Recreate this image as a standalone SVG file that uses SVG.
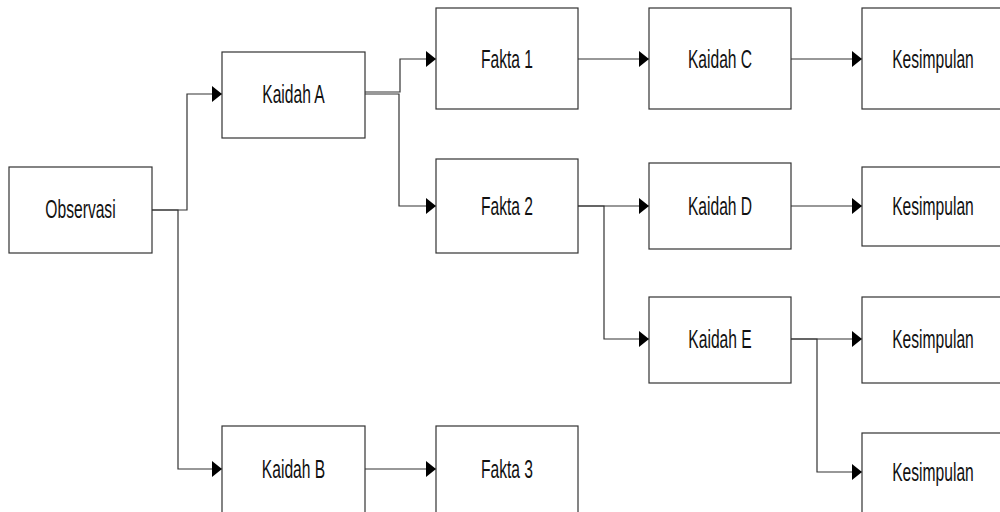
<svg xmlns="http://www.w3.org/2000/svg" width="1000" height="512" viewBox="0 0 1000 512">
<style>
.box{fill:#fff;stroke:#333;stroke-width:1.2}
.lbl{font-family:"Liberation Sans",Arial,sans-serif;font-size:25px;fill:#111;text-anchor:middle}
.con{fill:none;stroke:#333;stroke-width:1.2}
</style>
<defs>
<marker id="arr" markerUnits="userSpaceOnUse" markerWidth="10" markerHeight="16" refX="10" refY="8" orient="auto">
<path d="M0,0 L10,8 L0,16 z" fill="#000"/>
</marker>
</defs>
<rect width="1000" height="512" fill="#fff"/>
<g id="connectors">
<path class="con" d="M152,210 H187 V94 H222" marker-end="url(#arr)"/>
<path class="con" d="M152,210 H178 V469 H222" marker-end="url(#arr)"/>
<path class="con" d="M365,92 H400 V59 H436" marker-end="url(#arr)"/>
<path class="con" d="M365,94 H399 V206 H436" marker-end="url(#arr)"/>
<path class="con" d="M578,59 H649" marker-end="url(#arr)"/>
<path class="con" d="M791,59 H862" marker-end="url(#arr)"/>
<path class="con" d="M578,206 H649" marker-end="url(#arr)"/>
<path class="con" d="M578,206 H604 V339 H649" marker-end="url(#arr)"/>
<path class="con" d="M791,206 H862" marker-end="url(#arr)"/>
<path class="con" d="M791,339 H862" marker-end="url(#arr)"/>
<path class="con" d="M791,339 H817 V472 H862" marker-end="url(#arr)"/>
<path class="con" d="M365,469 H436" marker-end="url(#arr)"/>
</g>
<g id="observasi"><rect class="box" x="9" y="167" width="143" height="86"/><text class="lbl" transform="translate(80.5,218) scale(0.625,1)">Observasi</text></g>
<g id="kaidah-a"><rect class="box" x="222" y="52" width="143" height="86"/><text class="lbl" transform="translate(293.5,102.5) scale(0.625,1)">Kaidah A</text></g>
<g id="kaidah-b"><rect class="box" x="222" y="426" width="143" height="88"/><text class="lbl" transform="translate(293.5,477.5) scale(0.625,1)">Kaidah B</text></g>
<g id="fakta-1"><rect class="box" x="436" y="8" width="142" height="101"/><text class="lbl" transform="translate(507,67.5) scale(0.625,1)">Fakta 1</text></g>
<g id="fakta-2"><rect class="box" x="436" y="159" width="142" height="94"/><text class="lbl" transform="translate(507,214.5) scale(0.625,1)">Fakta 2</text></g>
<g id="fakta-3"><rect class="box" x="436" y="426" width="142" height="88"/><text class="lbl" transform="translate(507,477.5) scale(0.625,1)">Fakta 3</text></g>
<g id="kaidah-c"><rect class="box" x="649" y="8" width="142" height="101"/><text class="lbl" transform="translate(720,67.5) scale(0.625,1)">Kaidah C</text></g>
<g id="kaidah-d"><rect class="box" x="649" y="163" width="142" height="86"/><text class="lbl" transform="translate(720,214.5) scale(0.625,1)">Kaidah D</text></g>
<g id="kaidah-e"><rect class="box" x="649" y="297" width="142" height="86"/><text class="lbl" transform="translate(720,347.5) scale(0.625,1)">Kaidah E</text></g>
<g id="kesimpulan-1"><rect class="box" x="862" y="8" width="142" height="101"/><text class="lbl" transform="translate(933,67.5) scale(0.625,1)">Kesimpulan</text></g>
<g id="kesimpulan-2"><rect class="box" x="862" y="167" width="142" height="79"/><text class="lbl" transform="translate(933,214.5) scale(0.625,1)">Kesimpulan</text></g>
<g id="kesimpulan-3"><rect class="box" x="862" y="297" width="142" height="86"/><text class="lbl" transform="translate(933,347.5) scale(0.625,1)">Kesimpulan</text></g>
<g id="kesimpulan-4"><rect class="box" x="862" y="433" width="142" height="86"/><text class="lbl" transform="translate(933,480.5) scale(0.625,1)">Kesimpulan</text></g>
</svg>
